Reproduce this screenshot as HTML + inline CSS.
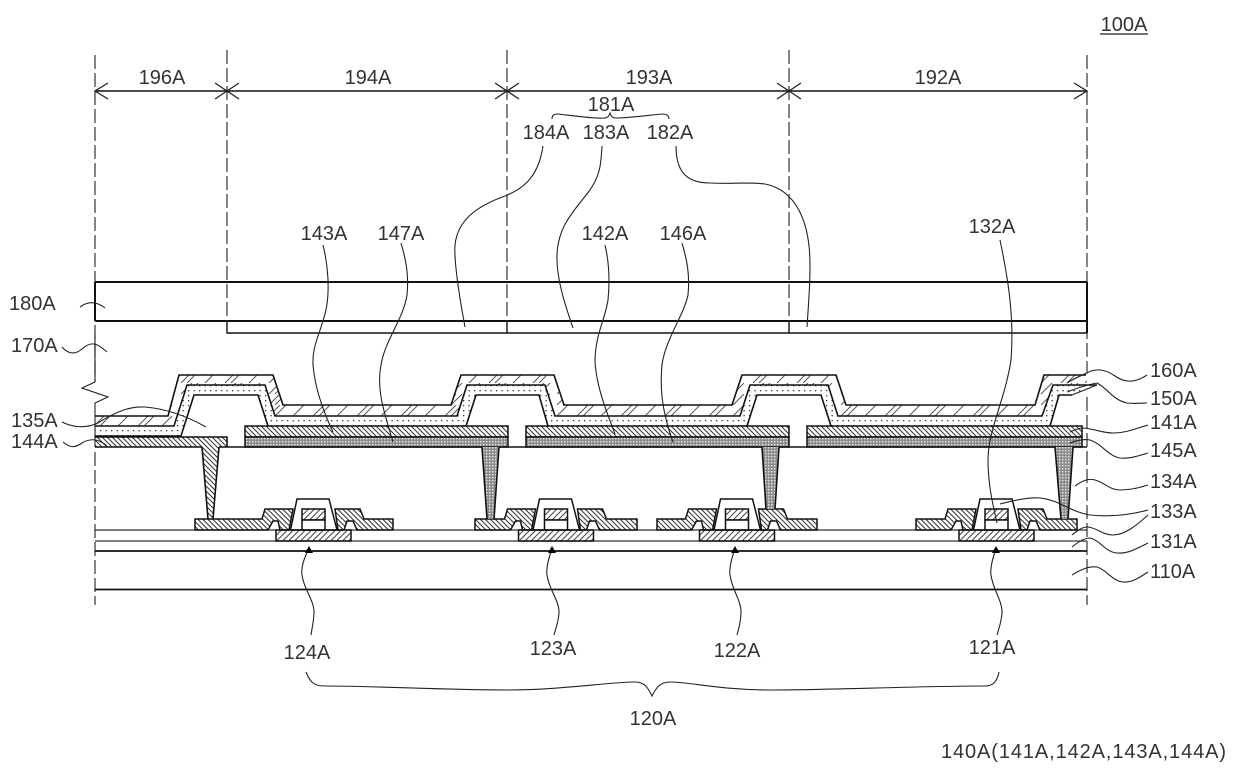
<!DOCTYPE html>
<html><head><meta charset="utf-8"><style>
html,body{margin:0;padding:0;background:#fff}
svg{display:block}
text{font-family:"Liberation Sans",sans-serif;font-size:20px;fill:#333}
.m{text-anchor:middle}
.l{fill:none;stroke:#222;stroke-width:1.1}
.d{fill:none;stroke:#333;stroke-width:1.2;stroke-dasharray:14 4}
.h{fill:none;stroke:#111;stroke-width:1.6}
.s{stroke:#111;stroke-width:1.5;stroke-linejoin:miter}
</style></head><body>
<svg width="1240" height="780" viewBox="0 0 1240 780" xmlns="http://www.w3.org/2000/svg">
<defs>
<pattern id="sp" width="44" height="11" patternUnits="userSpaceOnUse" patternTransform="translate(3,405)">
<path d="M2 11L13 0M8 11L19 0M26 11L37 0" stroke="#555" stroke-width="1" fill="none"/></pattern>
<pattern id="bk" width="5" height="5" patternUnits="userSpaceOnUse">
<path d="M-1 -1L6 6M4 -1L6 1M-1 4L1 6" stroke="#333" stroke-width="1" fill="none"/></pattern>
<pattern id="fw" width="6" height="6" patternUnits="userSpaceOnUse">
<path d="M7 -1L-1 7M1 -1L-1 1M7 5L5 7" stroke="#444" stroke-width="1" fill="none"/></pattern>
<pattern id="xx" width="3" height="3" patternUnits="userSpaceOnUse">
<rect width="3" height="3" fill="#8c8c8c"/><rect width="1.4" height="1.4" fill="#fff" opacity=".8"/></pattern>
<pattern id="dt" width="5.5" height="5" patternUnits="userSpaceOnUse" patternTransform="translate(0,398)">
<rect x="1" y="2" width="1.3" height="1.3" fill="#333"/></pattern>
<g id="tc">
<polygon points="-23,530 -16.500,499 15.500,499 23.500,530" fill="#fff" class="s"/>
<rect x="-11.500" y="509" width="23" height="11" fill="url(#fw)" class="s"/>
<rect x="-11.500" y="520" width="23" height="10" fill="#fff" class="s"/>
<rect x="-37.500" y="530" width="75" height="11" fill="url(#fw)" class="s"/>
</g>
</defs>
<rect width="1240" height="780" fill="#fff"/>

<!-- dashed boundaries -->
<path class="d" d="M95 55V382M95 452V605M1087 55V373M1087 397V605M227 50V321M507 50V321M789 50V321"/>
<path class="l" d="M95 335V382L82 388L108 397L95 403V447"/>
<!-- dimension -->
<path class="h" d="M95 91H1087" style="stroke-width:1.5"/>
<path class="l" d="M108 83L95 91L108 99M1074 83L1087 91L1074 99M215 83L239 99M215 99L239 83M495 83L519 99M495 99L519 83M777 83L801 99M777 99L801 83" style="stroke-width:1.3"/>
<!-- top plates -->
<path class="h" d="M95 282H1087M95 321H1087M95 282V321M1087 282V333" style="stroke-width:2"/>
<path class="h" d="M227 321V333H1087M507 321V333M789 321V333" style="stroke-width:1.4"/>

<!-- passivation layers -->
<polygon points="95,416 168,416 179,375 273,375 283,405 451,405 461,375 554,375 564,405 732,405 742,375 836,375 846,405 1035,405 1044,375 1087,375 1087,385 1053,385 1042,416 838,416 828,385 750,385 740,416 555,416 545,385 467,385 457,416 275,416 265,385 187,385 174,426 95,426" fill="url(#sp)"/>
<polygon points="95,426 174,426 187,385 265,385 275,416 457,416 467,385 545,385 555,416 740,416 750,385 828,385 838,416 1042,416 1053,385 1097,385 1072,395 1059,395 1050,426 831,426 821,395 757,395 747,426 548,426 539,395 476,395 466,426 268,426 258,395 194,395 181,436 95,436" fill="url(#dt)"/>
<path class="h" d="M95 416H168L179 375H273L283 405H451L461 375H554L564 405H732L742 375H836L846 405H1035L1044 375H1086"/>
<path class="h" d="M95 426H174L187 385H265L275 416H457L467 385H545L555 416H740L750 385H828L838 416H1042L1053 385H1097"/>
<path class="h" d="M95 436H181L194 395H258L268 426M466 426L476 395H539L548 426M747 426L757 395H821L831 426M1050 426L1059 395H1072"/>
<path class="l" d="M1097 385L1072 395"/>

<!-- electrodes -->
<rect x="95" y="437" width="132" height="10" fill="url(#bk)"/>
<path class="h" d="M95 437H227V447"/>
<rect x="245" y="426" width="263" height="11" fill="url(#bk)" class="s"/>
<rect x="245" y="437" width="263" height="10" fill="url(#xx)" class="s"/>
<rect x="526" y="426" width="263" height="11" fill="url(#bk)" class="s"/>
<rect x="526" y="437" width="263" height="10" fill="url(#xx)" class="s"/>
<rect x="807" y="426" width="275" height="11" fill="url(#bk)" class="s"/>
<rect x="807" y="437" width="275" height="10" fill="url(#xx)" class="s"/>
<path class="h" d="M95 447H202M219 447H482M499 447H762M779 447H1055M1073 447H1087"/>

<!-- insulator lines -->
<path d="M95 530H1087M95 541H1087" fill="none" stroke="#333" stroke-width="1.2"/>
<path class="h" d="M95 551H1087M95 589.500H1087" style="stroke-width:1.8"/>

<!-- TFTs -->
<g transform="translate(313.500,0)">
<polygon class="s" fill="url(#bk)" points="-118.500,519 -51.500,519 -48.500,509 -20.500,509 -24.500,530 -33.500,530 -35.500,521 -40.500,521 -45.500,530 -118.500,530"/>
<polygon class="s" fill="url(#bk)" points="21.500,509 46.500,509 50.500,519 79.500,519 79.500,530 43.500,530 39.500,521 33.500,521 30.500,530 24.500,530"/>
<use href="#tc"/></g>
<g transform="translate(556,0)">
<polygon class="s" fill="url(#bk)" points="-81,519 -51.500,519 -48.500,509 -20.500,509 -24.500,530 -33.500,530 -35.500,521 -40.500,521 -45.500,530 -81,530"/>
<polygon class="s" fill="url(#bk)" points="21.500,509 46.500,509 50.500,519 81,519 81,530 43.500,530 39.500,521 33.500,521 30.500,530 24.500,530"/>
<use href="#tc"/></g>
<g transform="translate(737,0)">
<polygon class="s" fill="url(#bk)" points="-80,519 -51.500,519 -48.500,509 -20.500,509 -24.500,530 -33.500,530 -35.500,521 -40.500,521 -45.500,530 -80,530"/>
<polygon class="s" fill="url(#bk)" points="21.500,509 46.500,509 50.500,519 80,519 80,530 43.500,530 39.500,521 33.500,521 30.500,530 24.500,530"/>
<use href="#tc"/></g>
<g transform="translate(996.500,0)">
<polygon class="s" fill="url(#bk)" points="-80.500,519 -51.500,519 -48.500,509 -20.500,509 -24.500,530 -33.500,530 -35.500,521 -40.500,521 -45.500,530 -80.500,530"/>
<polygon class="s" fill="url(#bk)" points="21.500,509 46.500,509 50.500,519 80.500,519 80.500,530 43.500,530 39.500,521 33.500,521 30.500,530 24.500,530"/>
<use href="#tc"/></g>

<!-- vias -->
<polygon points="202,447 219,447 213,519 208,519" fill="url(#bk)"/><path class="h" d="M202 447L208 519M219 447L213 519"/>
<polygon points="482,447 499,447 494,519 487,519" fill="url(#xx)"/><path class="h" d="M482 447L487 519M499 447L494 519"/>
<polygon points="762,447 779,447 775,509 766,509" fill="url(#xx)"/><path class="h" d="M762 447L766 509M779 447L775 509"/>
<polygon points="1055,447 1073,447 1068,519 1061,519" fill="url(#xx)"/><path class="h" d="M1055 447L1061 519M1073 447L1068 519"/>

<!-- leaders -->
<g class="l" fill="none">
<path class="l" d="M543 146C538 180 520 190 505 196C480 205 452 220 455 255C456 280 462 310 465 327"/>
<path class="l" d="M602 146C601 165 600 175 590 190C575 210 558 225 557 255C556 280 567 310 573 328"/>
<path class="l" d="M676 146C676 170 685 183 710 183C730 184 750 182 765 184C795 190 810 220 810 265C810 290 808 310 807 327"/>
<path class="l" d="M323 245C328 265 330 290 326 310C320 335 312 345 313 365C315 390 325 415 333 432"/>
<path class="l" d="M401 243C406 260 409 275 407 295C403 320 385 340 381 365C376 390 385 415 393 442"/>
<path class="l" d="M605 245C609 262 610 280 608 300C605 320 595 335 595 362C597 390 608 415 615 434"/>
<path class="l" d="M682 243C687 260 690 275 688 295C684 315 665 340 662 365C659 395 665 420 673 442"/>
<path class="l" d="M1000 240C1005 265 1015 310 1011 360C1005 400 988 430 988 460C988 485 993 505 997 523"/>
<path class="l" d="M80 307C88 301 96 301 105 308M62 347C68 354 75 355 82 349C92 340 98 344 107 352M62 422C72 427 85 429 98 423C115 412 130 406 145 407C170 409 190 418 206 427M63 442C70 448 75 448 82 443C92 437 100 440 107 446"/>
<path class="l" d="M1067 383C1075 378 1080 376 1087 373C1095 368 1105 369 1115 376C1125 383 1135 383 1147 375M1067 392C1075 389 1085 385 1097 383C1107 388 1113 400 1127 403C1135 404 1140 403 1147 403M1070 432C1075 430 1078 428 1083 428C1095 429 1103 433 1113 433C1125 433 1135 429 1148 425M1070 443C1078 440 1085 439 1090 440C1102 444 1108 456 1120 458C1130 459 1138 456 1148 453M1075 486C1082 481 1088 478 1095 480C1105 483 1110 490 1120 490C1130 490 1138 488 1148 485M1000 504C1015 500 1030 497 1040 498C1060 500 1070 512 1090 515C1110 517 1130 515 1148 510M1072 535C1078 530 1082 527 1088 527C1097 528 1103 535 1113 535C1125 535 1137 525 1148 515M1072 547C1078 542 1084 538 1090 538C1100 540 1105 552 1117 553C1128 554 1138 548 1148 543M1072 575C1080 570 1088 566 1097 567C1107 570 1112 581 1123 582C1132 583 1140 577 1148 572"/>
<path class="l" d="M309 549C303 560 301 568 302 575C304 590 314 600 314 612C314 620 312 628 311 635M552 549C548 560 546 568 547 575C549 590 559 600 559 612C559 620 556 628 554 635M735 549C731 560 729 568 730 575C732 590 741 600 741 612C741 620 739 628 737 635M996 549C992 560 990 568 991 575C993 590 1002 600 1002 612C1002 620 999 628 997 635"/>
<path class="l" d="M552 119C552 115 554 114 558 114C575 116 595 119 604 118C608 118 609 116 610 113C611 116 612 118 616 118C630 118 650 115 662 114C667 114 669 116 669 119"/>
<path class="l" d="M306 672C310 682 314 686 324 686C380 686 440 690 510 690C560 690 610 682 635 682C645 682 648 688 652 696C656 688 660 682 670 682C690 682 720 690 770 690C830 690 920 686 985 686C993 686 997 682 999 672"/>
</g>
<!-- arrowheads -->
<path d="M305 553H313L309 546ZM548 553H556L552 546ZM731 553H739L735 546ZM992 553H1000L996 546Z" fill="#000"/>

<!-- labels -->
<text x="1124" y="31" class="m">100A</text>
<path d="M1100 34H1148" stroke="#222" stroke-width="1.3"/>
<text x="162" y="84" class="m">196A</text>
<text x="368" y="84" class="m">194A</text>
<text x="649" y="84" class="m">193A</text>
<text x="938" y="84" class="m">192A</text>
<text x="611" y="111" class="m">181A</text>
<text x="546" y="139" class="m">184A</text>
<text x="606" y="139" class="m">183A</text>
<text x="670" y="139" class="m">182A</text>
<text x="324" y="240" class="m">143A</text>
<text x="401" y="240" class="m">147A</text>
<text x="605" y="240" class="m">142A</text>
<text x="683" y="240" class="m">146A</text>
<text x="992" y="233" class="m">132A</text>
<text x="9" y="310">180A</text>
<text x="11" y="352">170A</text>
<text x="11" y="427">135A</text>
<text x="11" y="448">144A</text>
<text x="1150" y="377">160A</text>
<text x="1150" y="405">150A</text>
<text x="1150" y="429">141A</text>
<text x="1150" y="457">145A</text>
<text x="1150" y="488">134A</text>
<text x="1150" y="518">133A</text>
<text x="1150" y="548">131A</text>
<text x="1150" y="578">110A</text>
<text x="307" y="659" class="m">124A</text>
<text x="553" y="655" class="m">123A</text>
<text x="737" y="657" class="m">122A</text>
<text x="992" y="654" class="m">121A</text>
<text x="653" y="725" class="m">120A</text>
<text x="941" y="758" textLength="285" lengthAdjust="spacing">140A(141A,142A,143A,144A)</text>
</svg>
</body></html>
